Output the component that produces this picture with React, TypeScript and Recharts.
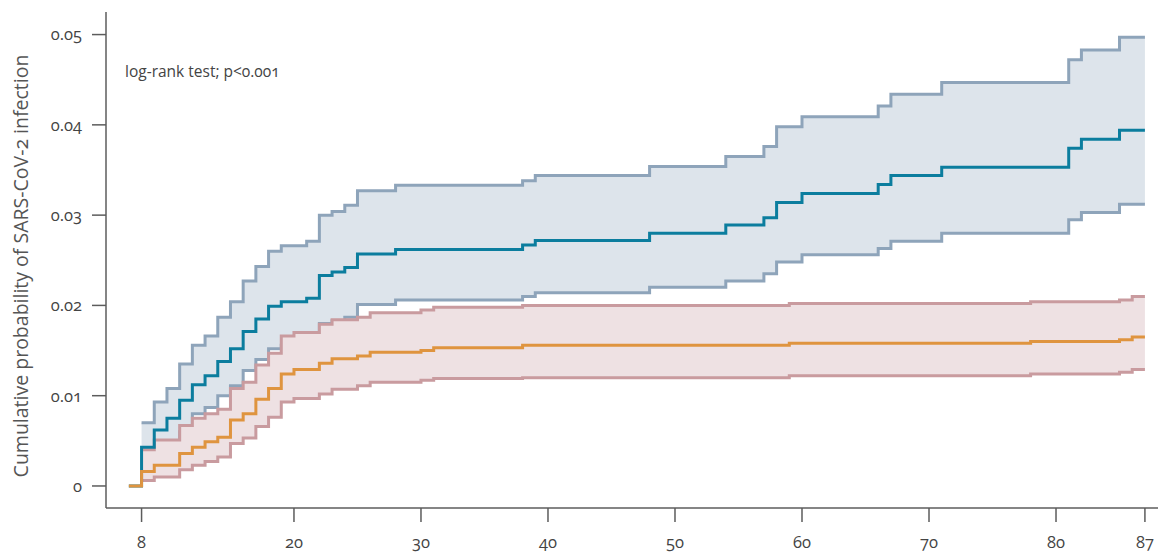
import React from 'react';
import { ComposedChart, Area, Line, XAxis, YAxis } from 'recharts';

// days since start where any curve changes (step points)
const days = [7, 8, 9, 10, 11, 12, 13, 14, 15, 16, 17, 18, 19, 20, 21, 22, 23, 24, 25, 26, 28, 30, 31, 38, 39, 48, 54, 57, 58, 59, 60, 66, 67, 71, 78, 81, 82, 85, 86, 87];

// blue group: estimate + 95% CI
const blueEst = [0, 0.0043, 0.0062, 0.0075, 0.0095, 0.0112, 0.0122, 0.0138, 0.0152, 0.0171, 0.0185, 0.0199, 0.0204, 0.0204, 0.0208, 0.0233, 0.0237, 0.0242, 0.0257, 0.0257, 0.0262, 0.0262, 0.0262, 0.0267, 0.0272, 0.028, 0.0289, 0.0297, 0.0314, 0.0314, 0.0324, 0.0334, 0.0344, 0.0353, 0.0353, 0.0374, 0.0384, 0.0394, 0.0394, 0.0394];
const blueHigh = [null, 0.007, 0.0093, 0.0108, 0.0135, 0.0156, 0.0166, 0.0187, 0.0204, 0.0227, 0.0243, 0.026, 0.0266, 0.0266, 0.0271, 0.03, 0.0304, 0.0311, 0.0327, 0.0327, 0.0333, 0.0333, 0.0333, 0.0338, 0.0344, 0.0354, 0.0365, 0.0376, 0.0398, 0.0398, 0.0409, 0.0421, 0.0434, 0.0447, 0.0447, 0.0472, 0.0483, 0.0497, 0.0497, 0.0497];
const blueLow = [null, 0.0022, 0.0034, 0.0044, 0.006, 0.008, 0.0087, 0.01, 0.0111, 0.0128, 0.014, 0.0152, 0.0156, 0.0158, 0.0161, 0.018, 0.0183, 0.0187, 0.0201, 0.0201, 0.0206, 0.0206, 0.0206, 0.021, 0.0214, 0.022, 0.0227, 0.0235, 0.0248, 0.0248, 0.0256, 0.0263, 0.0271, 0.028, 0.028, 0.0295, 0.0303, 0.0312, 0.0312, 0.0312];

// orange group: estimate + 95% CI
const orangeEst = [0, 0.0016, 0.0023, 0.0023, 0.0036, 0.0043, 0.0049, 0.0054, 0.0073, 0.008, 0.0096, 0.0108, 0.0124, 0.0129, 0.0129, 0.0136, 0.0141, 0.0141, 0.0144, 0.0148, 0.0148, 0.015, 0.0153, 0.0156, 0.0156, 0.0156, 0.0156, 0.0156, 0.0156, 0.0158, 0.0158, 0.0158, 0.0158, 0.0158, 0.016, 0.016, 0.016, 0.0162, 0.0165, 0.0165];
const redHigh = [null, 0.004, 0.0051, 0.0051, 0.0067, 0.0075, 0.008, 0.0085, 0.0108, 0.0115, 0.0134, 0.0147, 0.0166, 0.017, 0.017, 0.0179, 0.0184, 0.0184, 0.0187, 0.0192, 0.0192, 0.0195, 0.0198, 0.02, 0.02, 0.02, 0.02, 0.02, 0.02, 0.0202, 0.0202, 0.0202, 0.0202, 0.0202, 0.0204, 0.0204, 0.0204, 0.0206, 0.021, 0.021];
const redLow = [null, 0.0006, 0.001, 0.001, 0.0018, 0.0023, 0.0027, 0.0032, 0.0047, 0.0053, 0.0066, 0.0076, 0.0093, 0.0097, 0.0097, 0.0102, 0.0107, 0.0107, 0.0111, 0.0115, 0.0115, 0.0117, 0.0119, 0.012, 0.012, 0.012, 0.012, 0.012, 0.012, 0.0122, 0.0122, 0.0122, 0.0122, 0.0122, 0.0124, 0.0124, 0.0124, 0.0126, 0.0129, 0.0129];

const xTicks = [8, 20, 30, 40, 50, 60, 70, 80, 87];
const yTicks = [0, 0.01, 0.02, 0.03, 0.04, 0.05];

const rows = days.map((day, i) => ({
  day,
  blueEst: blueEst[i],
  orangeEst: orangeEst[i],
  blueBand: blueLow[i] == null ? null : [blueLow[i], blueHigh[i]],
  redBand: redLow[i] == null ? null : [redLow[i], redHigh[i]],
}));

const axisColor = '#5c5c5c';
const tickStyle = { fill: '#444', fontSize: 16.5 };

export default function App() {
  return (
    <div
      style={{
        position: 'absolute',
        left: 0,
        top: 0,
        width: 1160,
        height: 554,
        background: '#fff',
        fontFamily: '"Open Sans", sans-serif',
        fontVariantNumeric: 'oldstyle-nums',
      }}
    >
      <ComposedChart width={1160} height={554} data={rows} margin={{ top: 12, right: 2, bottom: 0, left: 0 }}>
        <XAxis
          dataKey="day"
          type="number"
          domain={[5.2, 88.03]}
          ticks={xTicks}
          allowDataOverflow
          height={46}
          tickSize={14}
          tickMargin={14}
          tick={tickStyle}
          stroke={axisColor}
          strokeWidth={1.5}
        />
        <YAxis
          type="number"
          domain={[-0.00244, 0.0525]}
          ticks={yTicks}
          allowDataOverflow
          width={106}
          tickSize={14}
          tickMargin={10}
          tick={tickStyle}
          tickFormatter={(v: number) => (v === 0 ? '0' : v.toFixed(2))}
          stroke={axisColor}
          strokeWidth={1.5}
          label={{
            value: 'Cumulative probability of SARS-CoV-2 infection',
            angle: -90,
            position: 'insideLeft',
            offset: 21,
            dy: 6,
            style: { textAnchor: 'middle', fill: '#555', fontSize: 19.5 },
          }}
        />
        <Area
          dataKey="blueBand"
          type="stepAfter"
          stroke="#8ea4ba"
          strokeWidth={3}
          fill="#dde4eb"
          fillOpacity={1}
          isAnimationActive={false}
          dot={false}
          activeDot={false}
        />
        <Area
          dataKey="redBand"
          type="stepAfter"
          stroke="#c99b9f"
          strokeWidth={3}
          fill="#eee1e3"
          fillOpacity={1}
          isAnimationActive={false}
          dot={false}
          activeDot={false}
        />
        <Line
          dataKey="blueEst"
          type="stepAfter"
          stroke="#0b7d9e"
          strokeWidth={3}
          dot={false}
          activeDot={false}
          isAnimationActive={false}
        />
        <Line
          dataKey="orangeEst"
          type="stepAfter"
          stroke="#df943f"
          strokeWidth={3}
          dot={false}
          activeDot={false}
          isAnimationActive={false}
        />
      </ComposedChart>
      <div
        style={{
          position: 'absolute',
          left: 125,
          top: 60,
          fontSize: 15.5,
          color: '#444',
          whiteSpace: 'nowrap',
        }}
      >
        log-rank test; p&lt;0.001
      </div>
    </div>
  );
}
